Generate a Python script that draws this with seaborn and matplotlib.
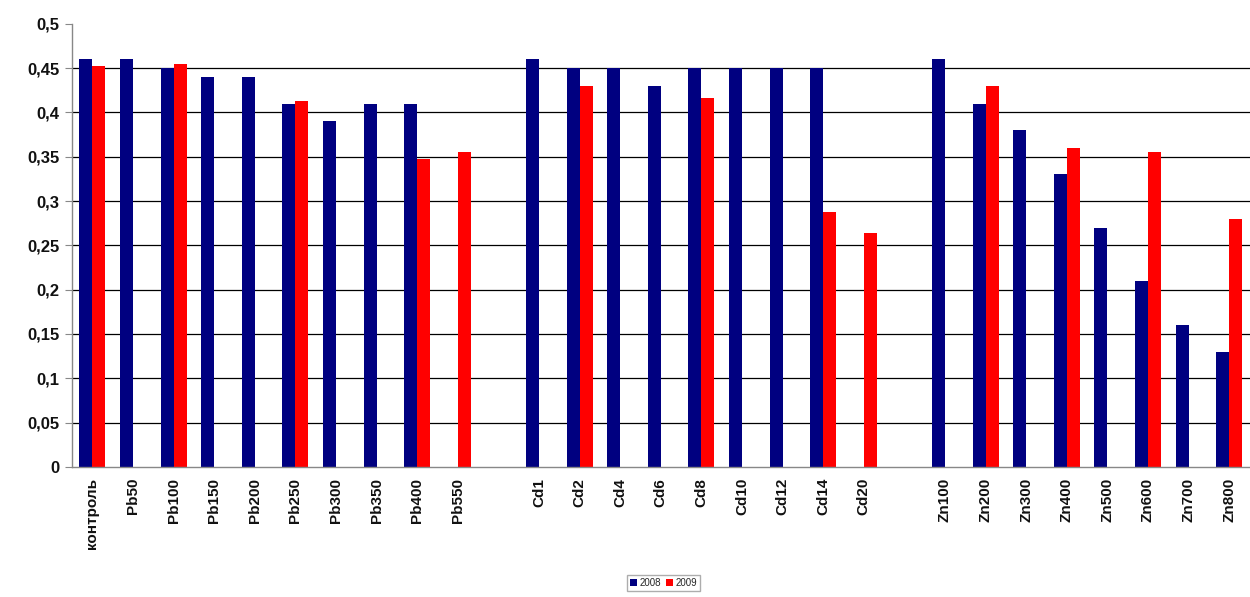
import numpy as np
import pandas as pd
import matplotlib
matplotlib.use("Agg")
import matplotlib.pyplot as plt
import seaborn as sns

# Treatments (blank names leave gaps between the Pb, Cd and Zn groups)
categories = ["контроль", "Pb50", "Pb100", "Pb150", "Pb200", "Pb250", "Pb300", "Pb350", "Pb400", "Pb550",
              " ",
              "Cd1", "Cd2", "Cd4", "Cd6", "Cd8", "Cd10", "Cd12", "Cd14", "Cd20",
              "  ",
              "Zn100", "Zn200", "Zn300", "Zn400", "Zn500", "Zn600", "Zn700", "Zn800"]

nan = np.nan
values_2008 = [0.46, 0.46, 0.45, 0.44, 0.44, 0.41, 0.39, 0.41, 0.41, nan,
               nan,
               0.46, 0.45, 0.45, 0.43, 0.45, 0.45, 0.45, 0.45, nan,
               nan,
               0.46, 0.41, 0.38, 0.33, 0.27, 0.21, 0.16, 0.13]
values_2009 = [0.452, nan, 0.455, nan, nan, 0.413, nan, nan, 0.348, 0.355,
               nan,
               nan, 0.43, nan, nan, 0.416, nan, nan, 0.288, 0.264,
               nan,
               nan, 0.43, nan, 0.36, nan, 0.355, nan, 0.28]
years = ["2008", "2009"]
yticks = [0, 0.05, 0.1, 0.15, 0.2, 0.25, 0.3, 0.35, 0.4, 0.45, 0.5]

df = pd.DataFrame({
    "treatment": categories * 2,
    "value": values_2008 + values_2009,
    "year": [years[0]] * len(categories) + [years[1]] * len(categories),
})

sns.set_theme(style="white")
plt.rcParams["font.family"] = ["Liberation Sans", "DejaVu Sans"]

fig = plt.figure(figsize=(12.5, 5.97), dpi=100)
ax = fig.add_axes([0.0576, 0.218, 0.942, 0.742])

sns.barplot(data=df, x="treatment", y="value", hue="year", order=categories,
            hue_order=years, palette=["#000080", "#ff0000"], width=0.64,
            saturation=1, dodge=True, ax=ax, legend=True, linewidth=0)

ax.set_ylim(0, 0.5)
ax.set_xlim(-0.5, len(categories) - 0.5)
ax.set_yticks(yticks)
ax.set_yticklabels([("%g" % t).replace(".", ",") for t in yticks],
                   fontsize=12, fontweight="bold", color="#111111")
ax.hlines(yticks[1:-1], -0.5, len(categories) - 0.5, colors="black", linewidth=0.9, zorder=0)

ax.set_xticks(range(len(categories)))
ax.set_xticklabels(categories, rotation=90, fontsize=11, fontweight="bold", color="#111111")
ax.set_xticks(np.arange(-0.5, len(categories), 1), minor=True)
ax.tick_params(axis="x", which="major", length=0, pad=8)
ax.tick_params(axis="x", which="minor", length=4, color="#888888", width=0.8)
ax.tick_params(axis="y", length=5, color="#888888", width=0.8, left=True, pad=4)
ax.set_xlabel("")
ax.set_ylabel("")

for side in ["top", "right"]:
    ax.spines[side].set_visible(False)
for side in ["left", "bottom"]:
    ax.spines[side].set_color("#888888")
    ax.spines[side].set_linewidth(1.0)

handles, labels = ax.get_legend_handles_labels()
ax.legend(handles, labels, loc="center", bbox_to_anchor=(0.5025, -0.262), ncol=2,
          fontsize=7, frameon=True, fancybox=False, edgecolor="#999999",
          handlelength=0.7, handleheight=0.7, handletextpad=0.3, columnspacing=0.5,
          borderpad=0.3, title=None)

fig.savefig("out.png", dpi=100, facecolor="white")
